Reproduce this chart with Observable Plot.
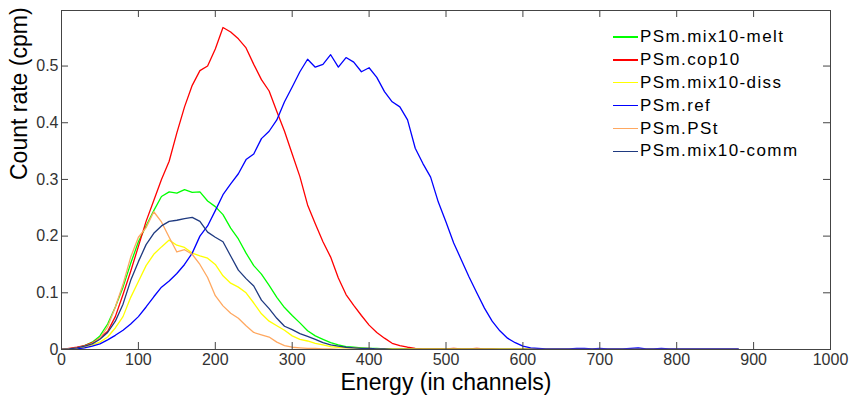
<!DOCTYPE html>
<html><head><meta charset="utf-8">
<script src="https://cdn.jsdelivr.net/npm/d3@7"></script>
<script src="https://cdn.jsdelivr.net/npm/@observablehq/plot@0.6"></script>
<style>
body{margin:0;background:#fff;}
#wrap{position:relative;width:851px;height:395px;font-family:"Liberation Sans",Arial,sans-serif;}
#legend{position:absolute;left:613px;top:25.5px;font-size:17px;letter-spacing:1.4px;color:#000;}
.row{display:flex;align-items:center;height:22.9px;white-space:nowrap;}
.sw{display:inline-block;width:25px;height:1.5px;margin-right:2px;}
</style></head><body><div id="wrap"></div>
<script>
const channels = [0,10,20,30,40,50,60,70,80,90,100,110,120,130,140,150,160,170,180,190,200,210,220,230,240,250,260,270,280,290,300,310,320,330,340,350,360,370,380,390,400,410,420,430,440,450,460,470,480,490,500,510,520,530,540,550,560,570,580,590,600,610,620,630,640,650,660,670,680,690,700,710,720,730,740,750,760,770,780,790,800,810,820,830,840,850,860,870,880];

const seriesNames = ["PSm.mix10-melt","PSm.cop10","PSm.mix10-diss","PSm.ref","PSm.PSt","PSm.mix10-comm"];
const seriesColors = ["#00ff00","#ff0000","#ffff00","#0000ff","#ffa860","#1f3a80"];

const melt = [0,0.001,0.003,0.007,0.013,0.024,0.045,0.075,0.11,0.152,0.19,0.218,0.245,0.27,0.278,0.276,0.282,0.277,0.278,0.262,0.252,0.238,0.214,0.195,0.17,0.148,0.133,0.113,0.092,0.074,0.06,0.047,0.033,0.024,0.018,0.012,0.008,0.005,0.004,0.003,0.002,0.002,0.001,0.001,0.001,0.001,
  0,0,0,0,0,0,0,0,0,0,0,0,0,0,0,0,0,0,0,0,0,0,0,0,0,0,0,0,0,0,0,0,0,0,0,0,0,0,0,0,0,0,0];
const cop10 = [0,0.002,0.004,0.007,0.012,0.02,0.032,0.058,0.097,0.138,0.182,0.226,0.263,0.3,0.332,0.382,0.428,0.466,0.492,0.5,0.53,0.568,0.56,0.548,0.532,0.503,0.476,0.456,0.42,0.385,0.345,0.305,0.255,0.222,0.19,0.163,0.126,0.097,0.078,0.06,0.043,0.03,0.02,0.011,0.007,0.004,0.002,0.001,0.001,0.001,0.001,0.002,0.001,0.001,0.002,0.001,0.001,
  0,0,0,0,0,0,0,0,0,0,0,0,0,0,0,0,0,0,0,0,0,0,0,0,0,0,0,0,0,0,0,0];
const diss = [0,0.001,0.002,0.004,0.008,0.013,0.022,0.038,0.058,0.092,0.12,0.148,0.168,0.181,0.193,0.184,0.18,0.17,0.165,0.161,0.15,0.13,0.117,0.11,0.1,0.082,0.063,0.05,0.042,0.034,0.024,0.018,0.015,0.011,0.008,0.005,0.004,0.003,0.003,0.002,0.002,
  0.001,0.001,0.001,0.001,0.001,0.001,0.001,0.001,0.001,0.001,0.001,0.001,0.001,0.001,0.001,0.001,0.001,0.001,0.001,0.001,0.001,0.001,0.001,0.001,0.001,
  0,0,0,0,0,0,0,0,0,0,0,0,0,0,0,0,0,0,0,0,0,0,0];
const ref = [0,0,0.001,0.003,0.006,0.01,0.017,0.025,0.034,0.045,0.058,0.075,0.093,0.11,0.121,0.134,0.15,0.17,0.2,0.218,0.245,0.273,0.292,0.31,0.335,0.345,0.372,0.385,0.405,0.437,0.463,0.49,0.512,0.498,0.503,0.52,0.498,0.515,0.507,0.49,0.497,0.48,0.455,0.437,0.428,0.405,0.355,0.328,0.304,0.26,0.225,0.188,0.158,0.128,0.1,0.073,0.05,0.033,0.02,0.012,0.006,0.003,0.002,0.001,0.001,0.001,0.001,0.002,0.002,0.001,0.002,0.001,0.001,0.001,0.002,0.003,0.001,0.001,0.002,0.001,0.001,0.001,0.001,0.001,0.001,0.001,0.001,0.001,0.001];
const pst = [0,0.001,0.003,0.006,0.011,0.02,0.04,0.075,0.115,0.163,0.198,0.215,0.243,0.225,0.198,0.172,0.176,0.168,0.15,0.127,0.095,0.077,0.064,0.055,0.042,0.03,0.026,0.022,0.013,0.007,0.004,0.003,0.002,0.002,0.001,0.001,
  0,0,0,0,0,0,0,0,0,0,0,0,0,0,0,0,0,0,0,0,0,0,0,0,0,0,0,0,0,0,0,0,0,0,0,0,0,0,0,0,0,0,0,0,0,0,0,0,0,0,0,0,0];
const comm = [0,0.001,0.003,0.006,0.01,0.018,0.03,0.05,0.08,0.122,0.155,0.185,0.205,0.218,0.226,0.228,0.231,0.233,0.226,0.207,0.198,0.19,0.165,0.14,0.125,0.112,0.087,0.072,0.055,0.041,0.035,0.028,0.023,0.018,0.012,0.008,0.006,0.004,0.003,0.002,0.002,0.001,0.001,
  0,0,0,0,0,0,0,0,0,0,0,0,0,0,0,0,0,0,0,0,0,0,0,0,0,0,0,0,0,0,0,0,0,0,0,0,0,0,0,0,0,0,0,0,0,0];

const xTicks = [0,100,200,300,400,500,600,700,800,900,1000];
const yTicks = [0,0.1,0.2,0.3,0.4,0.5];
const xLabel = "Energy (in channels)";
const yLabel = "Count rate (cpm)";

const seriesValues = [melt, cop10, diss, ref, pst, comm];
const rows = (vals, name) => channels.map((c, i) => ({x: c, y: vals[i] ?? 0, s: name}));

const W = 851, H = 395, mL = 61, mR = 21, mT = 10, mB = 46;
const innerW = W - mL - mR, innerH = H - mT - mB;
const tickLen = 7;
const axisColor = "#444";

const chart = Plot.plot({
  width: W, height: H,
  marginLeft: mL, marginRight: mR, marginTop: mT, marginBottom: mB,
  style: {fontFamily: "'Liberation Sans', Arial, sans-serif", fontSize: "16px", background: "#fff", overflow: "visible"},
  x: {domain: [0, 1000]},
  y: {domain: [0, 0.598]},
  marks: [
    ...seriesValues.map((v, k) => Plot.line(rows(v, seriesNames[k]), {x: "x", y: "y", stroke: seriesColors[k], strokeWidth: 1.3, clip: true})),
    Plot.frame({stroke: axisColor}),
    Plot.ruleX(xTicks, {x: d => d, insetTop: innerH - tickLen, stroke: axisColor}),
    Plot.ruleX(xTicks, {x: d => d, insetBottom: innerH - tickLen, stroke: axisColor}),
    Plot.ruleY(yTicks, {y: d => d, insetRight: innerW - tickLen, stroke: axisColor}),
    Plot.ruleY(yTicks, {y: d => d, insetLeft: innerW - tickLen, stroke: axisColor}),
    Plot.axisX(xTicks, {tickSize: 0, tickPadding: 4, fontSize: 16, color: "#333", label: null, tickFormat: d => String(d)}),
    Plot.axisY(yTicks, {tickSize: 0, tickPadding: 3, fontSize: 16, color: "#333", label: null, tickFormat: d => String(d)}),
    Plot.text([xLabel], {frameAnchor: "bottom", text: d => d, dy: 40, fontSize: 23, fill: "#000"}),
    Plot.text([yLabel], {frameAnchor: "left", text: d => d, rotate: -90, dx: -42, fontSize: 23, fill: "#000"})
  ]
});

const wrap = document.getElementById("wrap");
wrap.appendChild(chart);
const legend = document.createElement("div");
legend.id = "legend";
seriesNames.forEach((n, k) => {
  const r = document.createElement("div");
  r.className = "row";
  const sw = document.createElement("span");
  sw.className = "sw";
  sw.style.background = seriesColors[k];
  const t = document.createElement("span");
  t.textContent = n;
  r.appendChild(sw); r.appendChild(t);
  legend.appendChild(r);
});
wrap.appendChild(legend);
</script></body></html>
